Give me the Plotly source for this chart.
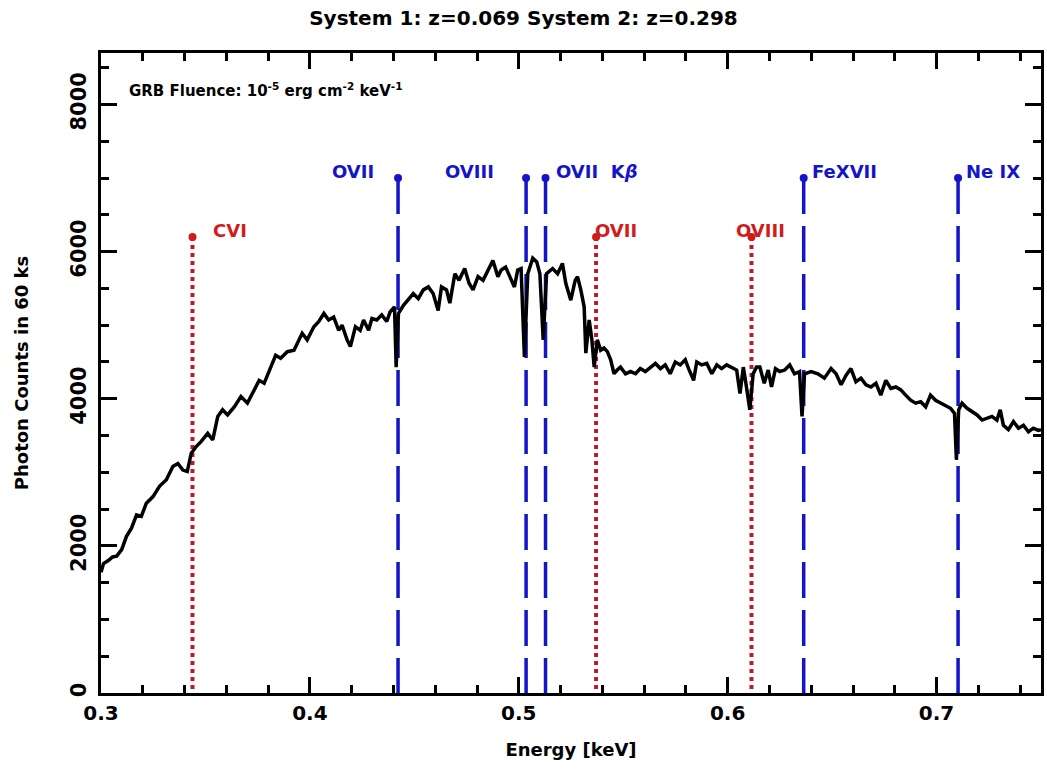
import plotly.graph_objects as go

# ---- spectrum ----
energy_keV = [
    0.3000, 0.3012, 0.3035, 0.3055, 0.3075, 0.3099, 0.3122, 0.3146, 0.3170, 0.3193,
    0.3217, 0.3249, 0.3280, 0.3313, 0.3344, 0.3368, 0.3392, 0.3413, 0.3432, 0.3456,
    0.3480, 0.3511, 0.3535, 0.3559, 0.3582, 0.3606, 0.3638, 0.3670, 0.3701, 0.3733,
    0.3757, 0.3781, 0.3813, 0.3836, 0.3860, 0.3892, 0.3924, 0.3940, 0.3963, 0.3987,
    0.4019, 0.4043, 0.4067, 0.4090, 0.4114, 0.4138, 0.4154, 0.4178, 0.4194, 0.4218,
    0.4241, 0.4257, 0.4281, 0.4297, 0.4320, 0.4344, 0.4368, 0.4384, 0.4405, 0.4413,
    0.4424, 0.4448, 0.4471, 0.4495, 0.4519, 0.4543, 0.4567, 0.4590, 0.4614, 0.4630,
    0.4654, 0.4670, 0.4694, 0.4714, 0.4741, 0.4762, 0.4781, 0.4805, 0.4829, 0.4852,
    0.4876, 0.4900, 0.4916, 0.4937, 0.4956, 0.4979, 0.4995, 0.5011, 0.5027, 0.5043,
    0.5067, 0.5086, 0.5101, 0.5117, 0.5133, 0.5162, 0.5186, 0.5209, 0.5225, 0.5249,
    0.5270, 0.5281, 0.5297, 0.5313, 0.5321, 0.5337, 0.5350, 0.5361, 0.5376, 0.5392,
    0.5408, 0.5424, 0.5440, 0.5456, 0.5471, 0.5487, 0.5511, 0.5535, 0.5559, 0.5582,
    0.5606, 0.5630, 0.5654, 0.5678, 0.5701, 0.5725, 0.5749, 0.5773, 0.5797, 0.5813,
    0.5837, 0.5852, 0.5876, 0.5900, 0.5924, 0.5948, 0.5971, 0.5995, 0.6019, 0.6043,
    0.6059, 0.6075, 0.6090, 0.6106, 0.6122, 0.6138, 0.6154, 0.6175, 0.6194, 0.6210,
    0.6229, 0.6249, 0.6273, 0.6297, 0.6320, 0.6344, 0.6356, 0.6368, 0.6400, 0.6432,
    0.6463, 0.6495, 0.6519, 0.6543, 0.6567, 0.6590, 0.6614, 0.6638, 0.6662, 0.6686,
    0.6710, 0.6733, 0.6757, 0.6781, 0.6805, 0.6829, 0.6852, 0.6876, 0.6900, 0.6924,
    0.6948, 0.6971, 0.6995, 0.7019, 0.7043, 0.7067, 0.7086, 0.7095, 0.7106, 0.7122,
    0.7146, 0.7170, 0.7194, 0.7218, 0.7241, 0.7265, 0.7289, 0.7305, 0.7320, 0.7344,
    0.7368, 0.7392, 0.7416, 0.7440, 0.7463, 0.7487, 0.7500,
]
photon_counts = [
    1640, 1760, 1800, 1850, 1860, 1950, 2130, 2240, 2420, 2400,
    2580, 2670, 2810, 2900, 3080, 3120, 3030, 3010, 3260, 3350,
    3420, 3530, 3440, 3760, 3850, 3780, 3890, 4030, 3940, 4120,
    4250, 4210, 4430, 4590, 4550, 4640, 4660, 4750, 4890, 4800,
    4980, 5050, 5160, 5070, 5110, 4930, 5000, 4800, 4710, 4980,
    4930, 5070, 4930, 5090, 5070, 5140, 5050, 5180, 5250, 4430,
    5160, 5270, 5340, 5430, 5360, 5480, 5520, 5430, 5200, 5520,
    5480, 5300, 5700, 5610, 5770, 5570, 5480, 5660, 5610, 5730,
    5880, 5660, 5750, 5790, 5660, 5520, 5750, 5770, 4570, 5700,
    5910, 5860, 5700, 4800, 5700, 5770, 5700, 5840, 5570, 5340,
    5610, 5660, 5480, 5250, 4620, 5070, 4800, 4430, 4800, 4660,
    4690, 4640, 4530, 4340, 4390, 4430, 4340, 4370, 4340, 4410,
    4370, 4430, 4480, 4410, 4460, 4340, 4500, 4460, 4530, 4410,
    4250, 4500, 4460, 4480, 4340, 4460, 4410, 4460, 4430, 4390,
    4070, 4430, 4160, 3850, 4340, 4430, 4430, 4210, 4390, 4160,
    4410, 4370, 4390, 4460, 4340, 4370, 3760, 4340, 4370, 4340,
    4280, 4410, 4340, 4190, 4320, 4410, 4230, 4280, 4190, 4160,
    4210, 4050, 4250, 4140, 4160, 4120, 4050, 3980, 3940, 3960,
    3890, 4050, 3980, 3940, 3910, 3870, 3800, 3170, 3850, 3940,
    3870, 3820, 3780, 3710, 3730, 3760, 3710, 3850, 3640, 3580,
    3690, 3600, 3640, 3550, 3600, 3570, 3580,
]

# ---- absorption-line markers ----
sys1_names = ["CVI", "OVII", "OVIII"]            # z = 0.069 (red, dotted)
sys1_energy = [0.3438, 0.5370, 0.6114]
sys1_top = 6200
sys2_names = ["OVII", "OVIII", "OVII  K<i>β</i>", "FeXVII", "Ne IX"]  # z = 0.298 (blue, dashed)
sys2_energy = [0.4422, 0.5035, 0.5128, 0.6364, 0.7103]
sys2_top = 7000

x_ticks = [0.3, 0.4, 0.5, 0.6, 0.7]
y_ticks = [0, 2000, 4000, 6000, 8000]

RED = "#d01c1c"
RED_LINE = "#c0182a"
BLUE = "#1414c8"
FONT = "DejaVu Sans"

fig = go.Figure()

for e in sys1_energy:
    fig.add_trace(go.Scatter(x=[e, e], y=[sys1_top, 0], mode="lines",
                             line=dict(color=RED_LINE, width=4, dash="4px,4px"),
                             showlegend=False, hoverinfo="skip"))
for e in sys2_energy:
    fig.add_trace(go.Scatter(x=[e, e], y=[sys2_top, 0], mode="lines",
                             line=dict(color=BLUE, width=3.5, dash="36px,12px"),
                             showlegend=False, hoverinfo="skip"))

fig.add_trace(go.Scatter(x=energy_keV, y=photon_counts, mode="lines",
                         line=dict(color="black", width=3.5),
                         showlegend=False))

fig.add_trace(go.Scatter(x=sys1_energy, y=[sys1_top] * len(sys1_energy), mode="markers",
                         marker=dict(color=RED, size=8), showlegend=False))
fig.add_trace(go.Scatter(x=sys2_energy, y=[sys2_top] * len(sys2_energy), mode="markers",
                         marker=dict(color=BLUE, size=8), showlegend=False))

lab_font = dict(family=FONT, size=18, color=BLUE)
# blue labels: (anchor, xshift)
sys2_pos = [("right", -22), ("right", -30), ("left", 8), ("left", 6), ("left", 6)]
for n, e, (anc, sh) in zip(sys2_names, sys2_energy, sys2_pos):
    fig.add_annotation(x=e, y=sys2_top, text=f"<b>{n}</b>", showarrow=False,
                       xanchor=anc, yanchor="middle", xshift=sh, yshift=7,
                       font=lab_font)
sys1_pos = [("left", 19), ("left", -3), ("left", -17)]
for n, e, (anc, sh) in zip(sys1_names, sys1_energy, sys1_pos):
    fig.add_annotation(x=e, y=sys1_top, text=f"<b>{n}</b>", showarrow=False,
                       xanchor=anc, yanchor="middle", xshift=sh, yshift=6,
                       font=dict(family=FONT, size=18, color=RED))

fig.add_annotation(x=0.3, y=8000, xref="x", yref="y", xanchor="left", yanchor="middle",
                   xshift=26, yshift=14, showarrow=False,
                   text="<b>GRB Fluence: 10<sup>-5</sup> erg cm<sup>-2</sup> keV<sup>-1</sup></b>",
                   font=dict(family=FONT, size=15, color="black"))

axis_common = dict(showline=True, linewidth=3, linecolor="black", mirror="ticks",
                   ticks="inside", tickwidth=3, tickcolor="black", ticklen=16,
                   showgrid=False, zeroline=False)

fig.update_xaxes(range=[0.3, 0.75], tickvals=x_ticks, ticktext=[f"<b>{v}</b>" for v in x_ticks],
                 tickfont=dict(family=FONT, size=20, color="black"),
                 minor=dict(dtick=0.02, tick0=0.3, ticks="inside", ticklen=8, tickwidth=3,
                            tickcolor="black", showgrid=False),
                 title=dict(text="<b>Energy [keV]</b>", font=dict(family=FONT, size=18, color="black"),
                            standoff=20),
                 **axis_common)
fig.update_yaxes(range=[0, 8700], tickvals=y_ticks, ticktext=[f"<b>{v}</b>" for v in y_ticks],
                 tickangle=-90, ticklabelstandoff=4,
                 tickfont=dict(family=FONT, size=21, color="black"),
                 minor=dict(dtick=500, tick0=0, ticks="inside", ticklen=8, tickwidth=3,
                            tickcolor="black", showgrid=False),
                 title=dict(text="<b>Photon Counts in 60 ks</b>", font=dict(family=FONT, size=18, color="black"),
                            standoff=34),
                 **axis_common)

fig.update_layout(
    width=1047, height=772,
    margin=dict(l=101, r=3, t=53, b=79),
    paper_bgcolor="white", plot_bgcolor="white",
    title=dict(text="<b>System 1: z=0.069 System 2: z=0.298</b>", x=0.5, xanchor="center",
               y=0.977, yanchor="middle", font=dict(family=FONT, size=20, color="black")),
    showlegend=False,
)

fig.write_html("out.html")
